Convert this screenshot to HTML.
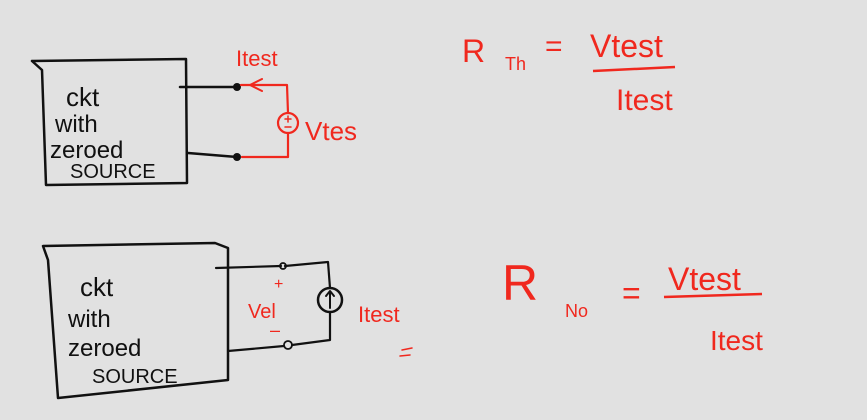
<!DOCTYPE html>
<html><head><meta charset="utf-8"><style>
html,body{margin:0;padding:0;background:#e1e1e1;}
svg{display:block;}
text{font-family:"Liberation Sans",sans-serif;}
.k{fill:#111;}
.r{fill:#f0281e;}
</style></head><body>
<svg width="867" height="420" viewBox="0 0 867 420">
<rect width="867" height="420" fill="#e1e1e1"/>
<g fill="none" stroke-linecap="round" stroke-linejoin="round">
  <path d="M32 61 L186 59 L187 183 L46 185 L42 70 L32 61" stroke="#111" stroke-width="2.5"/>
  <path d="M180 87 L237 87 M188 153 L237 157" stroke="#111" stroke-width="2.5"/>
  <circle cx="237" cy="87" r="4" fill="#111"/>
  <circle cx="237" cy="157" r="4" fill="#111"/>
  <path d="M241 85 L287 85 L288 113 M288 133 L288 157 L242 157" stroke="#f0281e" stroke-width="2.2"/>
  <path d="M262 79 L250 85 L262 91" stroke="#f0281e" stroke-width="2"/>
  <circle cx="288" cy="123" r="10" stroke="#f0281e" stroke-width="2.2"/>
  <path d="M285 119 L291 119 M288 116 L288 122 M285 127 L291 127" stroke="#f0281e" stroke-width="1.5"/>
</g>
<text x="236" y="66" class="r" font-size="22">Itest</text>
<text x="305" y="140" class="r" font-size="26">Vtes</text>
<text x="66" y="106" class="k" font-size="26">ckt</text>
<text x="55" y="132" class="k" font-size="24">with</text>
<text x="50" y="158" class="k" font-size="24">zeroed</text>
<text x="70" y="178" class="k" font-size="20">SOURCE</text>

<text x="462" y="62" class="r" font-size="32">R</text>
<text x="505" y="70" class="r" font-size="18">Th</text>
<text x="545" y="56" class="r" font-size="30">=</text>
<text x="590" y="57" class="r" font-size="32">Vtest</text>
<path d="M593 71 L675 67" stroke="#f0281e" stroke-width="2.5" fill="none"/>
<text x="616" y="110" class="r" font-size="30">Itest</text>

<g fill="none" stroke-linecap="round" stroke-linejoin="round">
  <path d="M43 246 L215 243 L228 248 L228 380 L58 398 L48 260 L43 246" stroke="#111" stroke-width="2.5"/>
  <path d="M216 268 L281 266 M285 266 L328 262 L330 288 M330 312 L330 340 L292 345 M284 346 L228 351" stroke="#111" stroke-width="2.2"/>
  <circle cx="283" cy="266" r="3" stroke="#111" stroke-width="1.8"/>
  <circle cx="288" cy="345" r="4" stroke="#111" stroke-width="1.8"/>
  <circle cx="330" cy="300" r="12" stroke="#111" stroke-width="2.5"/>
  <path d="M330 308 L330 292 M326 296 L330 291 L334 296" stroke="#111" stroke-width="2"/>
  <path d="M402 350 L412 348 M400 356 L410 355" stroke="#f0281e" stroke-width="1.5"/>
</g>
<text x="274" y="289" class="r" font-size="16">+</text>
<text x="248" y="318" class="r" font-size="20">Vel</text>
<text x="270" y="336" class="r" font-size="18">–</text>
<text x="358" y="322" class="r" font-size="22">Itest</text>
<text x="80" y="296" class="k" font-size="26">ckt</text>
<text x="68" y="327" class="k" font-size="24">with</text>
<text x="68" y="356" class="k" font-size="24">zeroed</text>
<text x="92" y="383" class="k" font-size="20">SOURCE</text>

<text x="502" y="300" class="r" font-size="50">R</text>
<text x="565" y="317" class="r" font-size="18">No</text>
<text x="622" y="304" class="r" font-size="32">=</text>
<text x="668" y="290" class="r" font-size="32">Vtest</text>
<path d="M664 297 L762 294" stroke="#f0281e" stroke-width="2.5" fill="none"/>
<text x="710" y="350" class="r" font-size="28">Itest</text>
</svg>
</body></html>
